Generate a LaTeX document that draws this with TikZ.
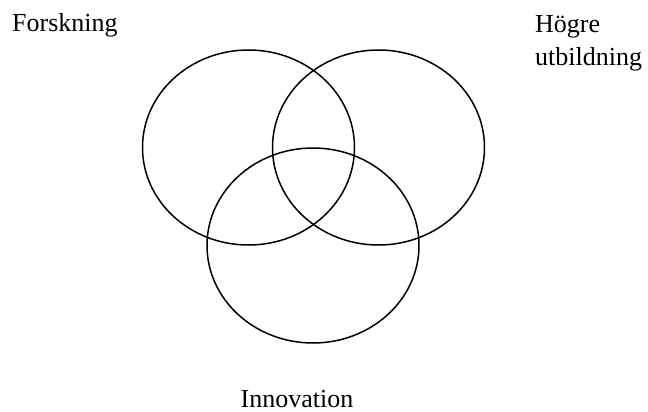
\documentclass[tikz,border=0pt]{standalone}
\usepackage{fontspec}
\setmainfont{Liberation Serif}
\usetikzlibrary{shapes.geometric}
\begin{document}
\begin{tikzpicture}[x=1pt,y=-1pt,
  venn/.style={draw=black, line width=1.5pt, ellipse, inner sep=0pt,
    minimum width=212pt, minimum height=195pt},
  lbl/.style={anchor=base west, inner sep=0pt, font=\fontsize{26}{33}\selectfont}]
\useasboundingbox (0,0) rectangle (648,412);
\node[venn] (forsk) at (248.5,147.5) {};
\node[venn] (hogre) at (378.5,147.5) {};
\node[venn] (innov) at (313,245.5) {};
\node[lbl] (tforsk) at (12,31.7) {Forskning};
\node[lbl] (thogre) at (535,33) {\begin{tabular}[t]{@{}l@{}}Högre\\utbildning\end{tabular}};
\node[lbl, text depth=0pt] (tinnov) at (240.5,407.5) {Innovation};
\end{tikzpicture}
\end{document}
